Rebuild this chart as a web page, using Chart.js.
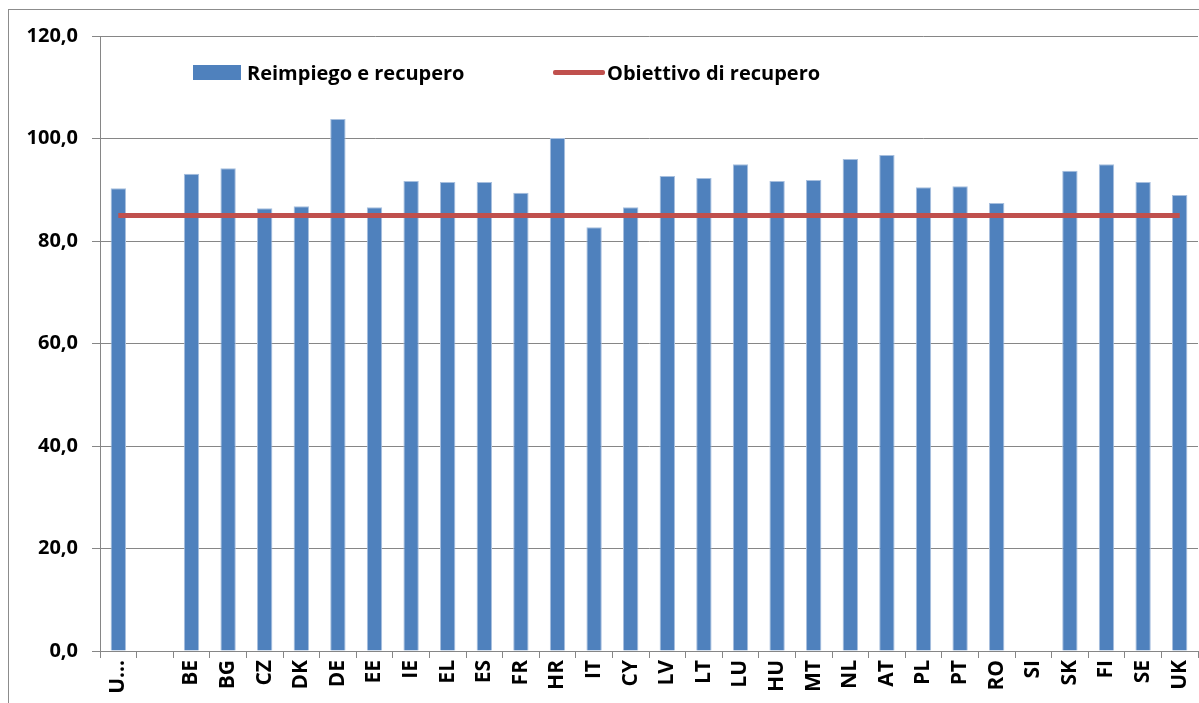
<!DOCTYPE html>
<html>
<head>
<meta charset="utf-8">
<script src="https://cdn.jsdelivr.net/npm/chart.js@4.4.1/dist/chart.umd.min.js"></script>
<style>
  body { margin: 0; background: #fff; }
  #wrap { position: relative; width: 1199px; height: 703px; }
  #frame { position: absolute; left: 8px; top: 9px; width: 1200px; height: 700px; border: 1px solid #8c8c8c; box-sizing: border-box; pointer-events: none; }
  .leg { position: absolute; top: 59px; font: bold 20px "Open Sans", sans-serif; color: #000; display: flex; align-items: center; }
  .sw-bar { width: 48px; height: 15px; background: #4F81BD; margin-right: 6px; }
  .sw-line { width: 52px; height: 5px; background: #C0504D; border-radius: 2px; margin-right: 2px; }
</style>
</head>
<body>
<div id="wrap">
  <canvas id="chart" width="1199" height="703"></canvas>
  <div id="frame"></div>
  <div class="leg" style="left:193px"><span class="sw-bar"></span><span id="lab0"></span></div>
  <div class="leg" style="left:553px"><span class="sw-line"></span><span id="lab1"></span></div>
</div>
<script>
const countries = ["U...", "", "BE", "BG", "CZ", "DK", "DE", "EE", "IE", "EL", "ES", "FR", "HR", "IT", "CY",
  "LV", "LT", "LU", "HU", "MT", "NL", "AT", "PL", "PT", "RO", "SI", "SK", "FI", "SE", "UK"];
const reuseRecovery = [90.3, null, 93.1, 94.2, 86.4, 86.8, 103.8, 86.6, 91.7, 91.5, 91.5, 89.4, 100.1, 82.7, 86.6,
  92.7, 92.3, 95.0, 91.7, 91.9, 96.0, 96.8, 90.5, 90.7, 87.4, null, 93.7, 95.0, 91.5, 89.0];
const recoveryTarget = countries.map(() => 85);
const seriesNames = ["Reimpiego e recupero", "Obiettivo di recupero"];

document.getElementById('lab0').textContent = seriesNames[0];
document.getElementById('lab1').textContent = seriesNames[1];

const tickFont = { family: '"Open Sans", sans-serif', weight: 'bold' };

new Chart(document.getElementById('chart'), {
  type: 'bar',
  data: {
    labels: countries,
    datasets: [{
      type: 'line',
      label: seriesNames[1],
      data: recoveryTarget,
      borderColor: '#C0504D',
      borderWidth: 5,
      pointRadius: 0,
      order: 0
    }, {
      label: seriesNames[0],
      data: reuseRecovery,
      backgroundColor: '#4F81BD',
      borderColor: '#A7BFDE',
      borderWidth: { left: 1, right: 1, top: 1, bottom: 0 },
      categoryPercentage: 1,
      barPercentage: 0.42,
      order: 1
    }]
  },
  options: {
    responsive: false,
    animation: false,
    layout: { padding: { top: 36, right: 1, bottom: 0, left: 0 } },
    plugins: { legend: { display: false }, tooltip: { enabled: false } },
    scales: {
      x: {
        grid: { offset: true, drawOnChartArea: false, drawTicks: true, tickLength: 7, color: '#868686' },
        border: { color: '#868686', width: 1 },
        ticks: { color: '#000', font: { ...tickFont, size: 21 }, minRotation: 90, maxRotation: 90, autoSkip: false, padding: 2 },
        afterFit: (s) => { s.height = 52; s.paddingLeft = 0; s.paddingRight = 0; }
      },
      y: {
        min: 0, max: 120,
        ticks: {
          stepSize: 20, color: '#000', padding: 14,
          font: { ...tickFont, size: 20 },
          callback: (v) => v.toFixed(1).replace('.', ',')
        },
        grid: { color: '#868686', tickLength: 8 },
        border: { color: '#868686' },
        afterFit: (s) => { s.width = 100; }
      }
    }
  }
});
</script>
</body>
</html>
